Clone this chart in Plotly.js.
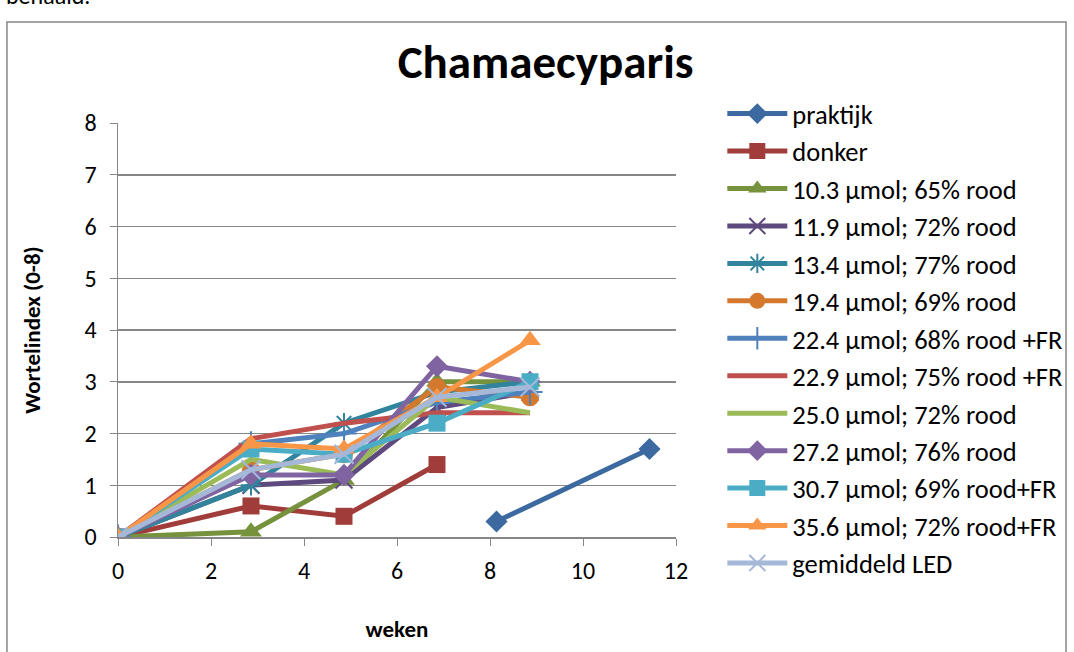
<!DOCTYPE html>
<html><head><meta charset="utf-8">
<script src="https://cdn.plot.ly/plotly-3.0.1.min.js"></script>
<style>body{margin:0;background:#fff}#c{width:1074px;height:652px}</style>
</head><body><div id="c"></div>
<script>
const weeksLED = [0, 2.86, 4.86, 6.86, 8.86];
const weeksPraktijk = [8.14, 11.43];
const weeksDonker = [0, 2.86, 4.86, 6.86];

const names = ["praktijk","donker","10.3 µmol; 65% rood","11.9 µmol; 72% rood","13.4 µmol; 77% rood","19.4 µmol; 69% rood","22.4 µmol; 68% rood +FR","22.9 µmol; 75% rood +FR","25.0 µmol; 72% rood","27.2 µmol; 76% rood","30.7 µmol; 69% rood+FR","35.6 µmol; 72% rood+FR","gemiddeld LED"];

const praktijk = [0.3, 1.7];
const donker = [0, 0.6, 0.4, 1.4];
const s103 = [0, 0.1, 1.1, 3.0, 3.0];
const s119 = [0, 1.0, 1.1, 2.5, 2.8];
const s134 = [0, 1.0, 2.2, 2.8, 3.0];
const s194 = [0, 1.3, 1.6, 2.9, 2.7];
const s224 = [0, 1.8, 2.0, 2.6, 2.8];
const s229 = [0, 1.9, 2.2, 2.4, 2.4];
const s250 = [0, 1.5, 1.2, 2.7, 2.4];
const s272 = [0, 1.2, 1.2, 3.3, 3.0];
const s307 = [0, 1.7, 1.6, 2.2, 3.0];
const s356 = [0, 1.8, 1.7, 2.7, 3.8];
const gemLED = [0, 1.3, 1.6, 2.7, 2.9];

const colors = ["#3C6AA0","#A03D3A","#76923C","#5E4A7E","#31849B","#D4782E","#4F81BD","#C0504D","#9BBB59","#8064A2","#4BACC6","#F79646","#A5B8D8"];
const symbols = ["diamond","square","triangle-up","x-thin-open","asterisk-open","circle","cross-thin-open",null,null,"diamond","square","triangle-up","x-thin-open"];
const sizes = [17,17,19,17,17,18,18,0,0,17,17,19,19];
const xs = [weeksPraktijk, weeksDonker, weeksLED, weeksLED, weeksLED, weeksLED, weeksLED, weeksLED, weeksLED, weeksLED, weeksLED, weeksLED, weeksLED];
const ys = [praktijk, donker, s103, s119, s134, s194, s224, s229, s250, s272, s307, s356, gemLED];

const traces = names.map((n,i)=>{
  const thin = symbols[i] && symbols[i].indexOf('open')>=0;
  const t = {x: xs[i], y: ys[i], name: n, type:'scatter',
    mode: symbols[i] ? 'lines+markers' : 'lines',
    line:{color: colors[i], width: 5}};
  if (symbols[i]) t.marker = {symbol: symbols[i], size: sizes[i], color: colors[i],
    line:{color: colors[i], width: thin ? 2 : 0}};
  return t;
});

const font = "Carlito, Calibri, 'Liberation Sans', Arial, sans-serif";
const layout = {
  width:1074, height:652,
  margin:{l:118, r:398, t:123, b:115, autoexpand:false},
  paper_bgcolor:'#fff', plot_bgcolor:'#fff',
  font:{family:font, size:24, color:'#000'},
  showlegend:true,
  title:{text:'<b>Chamaecyparis</b>', font:{size:47, family:font}, x:0.508, xanchor:'center', y:0.905, yanchor:'middle'},
  xaxis:{range:[0,12], dtick:2, showgrid:false, zeroline:false, showline:true, linecolor:'#868686', linewidth:1.5,
    ticks:'outside', ticklen:7, tickcolor:'#868686', tickfont:{size:24}, ticklabelstandoff:5,
    title:{text:'<b>weken</b>', font:{size:23}, standoff:36}},
  yaxis:{range:[0,8], dtick:1, showgrid:true, gridcolor:'#868686', gridwidth:1.5, zeroline:false, showline:true, linecolor:'#868686', linewidth:1.5,
    ticks:'outside', ticklen:7, tickcolor:'#868686', tickfont:{size:24}, ticklabelstandoff:8,
    title:{text:'<b>Wortelindex (0-8)</b>', font:{size:23}, standoff:37}},
  legend:{x:1.083, xanchor:'left', y:1.08, yanchor:'top', font:{size:26.5}, tracegroupgap:0, itemwidth:60, maxheight:1, bgcolor:'rgba(0,0,0,0)'},
  shapes:[{type:'rect', xref:'paper', yref:'paper', x0:-0.199, x1:1.699, y0:-0.35, y1:1.244, line:{color:'#868686', width:1.5}, fillcolor:'rgba(0,0,0,0)', layer:'below'}],
  annotations:[{text:'behaald.', xref:'paper', yref:'paper', x:-0.205, y:1.268, xanchor:'left', yanchor:'bottom', showarrow:false, font:{size:24}}]
};
Plotly.newPlot('c', traces, layout, {displayModeBar:false, staticPlot:true});
</script></body></html>
